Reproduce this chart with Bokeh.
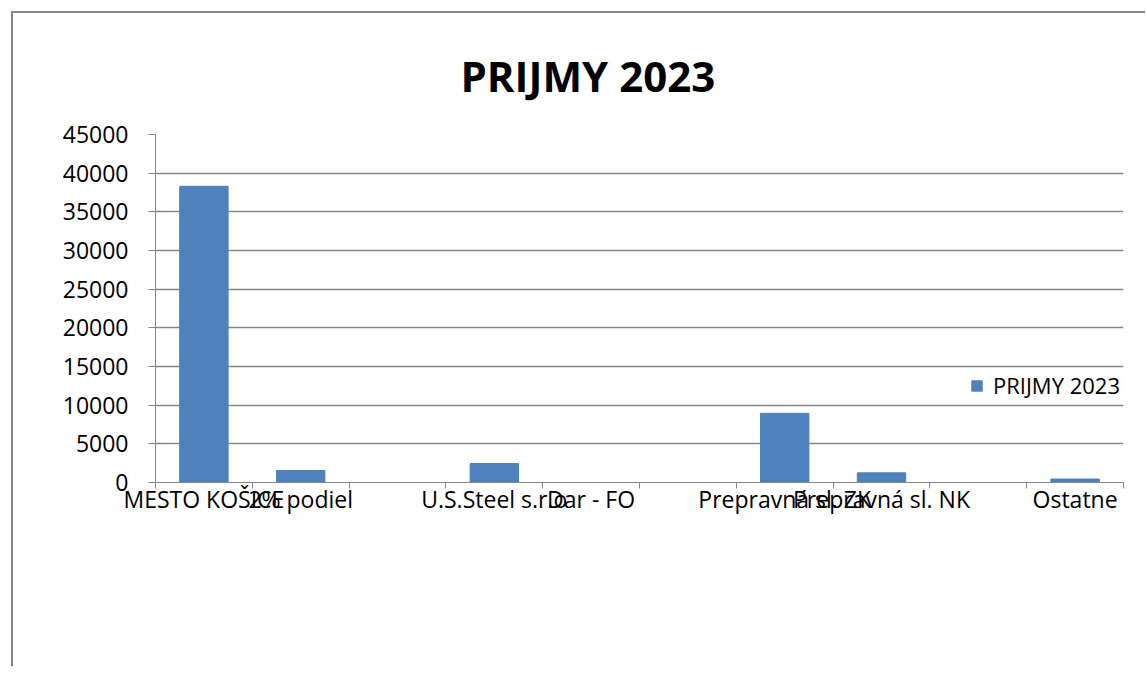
from bokeh.plotting import figure
from bokeh.models import Range1d, FixedTicker, ColumnDataSource, Title
from bokeh.embed import file_html
from bokeh.resources import INLINE

categories = ["MESTO KOŠICE", "2% podiel", "", "U.S.Steel s.r.o", "Dar - FO", "",
              "Prepravná sl. ZK", "Prepravná sl. NK", "", "Ostatne"]
values = [38300, 1550, 0, 2450, 0, 0, 8950, 1250, 0, 450]
y_ticks = [0, 5000, 10000, 15000, 20000, 25000, 30000, 35000, 40000, 45000]
series_name = "PRIJMY 2023"

FONT = "Open Sans"
GREY = "#868686"

xs = list(range(len(categories)))
src = ColumnDataSource(dict(x=xs, top=values))

p = figure(width=1134, height=655, output_backend="svg", toolbar_location=None,
           x_range=Range1d(-0.5, len(categories) - 0.5), y_range=Range1d(0, 45000),
           min_border_left=142, min_border_right=24, min_border_bottom=186, min_border_top=121)

p.vbar(x="x", top="top", width=0.5, source=src, color="#4F81BD", legend_label=series_name)

xa = p.below[0]
ya = p.left[0]

p.title = Title(text=series_name, text_font=FONT, text_font_size="42px", text_font_style="bold",
                align="left", offset=305, standoff=61, text_color="black")

# x axis
xa.ticker = FixedTicker(ticks=xs, minor_ticks=[i - 0.5 for i in range(len(categories) + 1)])
xa.major_label_overrides = {i: c for i, c in enumerate(categories)}
xa.major_tick_line_color = None
xa.major_tick_out = 0
xa.major_tick_in = 0
xa.minor_tick_out = 6
xa.minor_tick_in = 0
xa.minor_tick_line_color = GREY
xa.axis_line_color = GREY
xa.major_label_text_font = FONT
xa.major_label_text_font_size = "23px"
xa.major_label_text_color = "black"
xa.major_label_standoff = -6

# y axis
ya.ticker = FixedTicker(ticks=y_ticks)
ya.minor_tick_line_color = None
ya.major_tick_out = 7
ya.major_tick_in = 0
ya.major_tick_line_color = GREY
ya.axis_line_color = GREY
ya.major_label_text_font = FONT
ya.major_label_text_font_size = "23px"
ya.major_label_text_color = "black"
ya.major_label_standoff = 20

p.xgrid.grid_line_color = None
p.ygrid.grid_line_color = GREY
p.ygrid.grid_line_width = 1.5
p.ygrid.ticker = FixedTicker(ticks=y_ticks)

p.outline_line_color = None

leg = p.legend[0]
leg.location = (815, 82)
leg.border_line_color = None
leg.background_fill_alpha = 0
leg.padding = 0
leg.margin = 0
leg.glyph_width = 13
leg.glyph_height = 13
leg.label_standoff = 10
leg.label_text_font = FONT
leg.label_text_font_size = "22px"
leg.label_text_color = "black"

p.styles = {"border-top": "2px solid #868686", "border-left": "2px solid #868686",
            "margin-left": "11px", "margin-top": "11px"}

open("out.html", "w").write(file_html(p, INLINE))
